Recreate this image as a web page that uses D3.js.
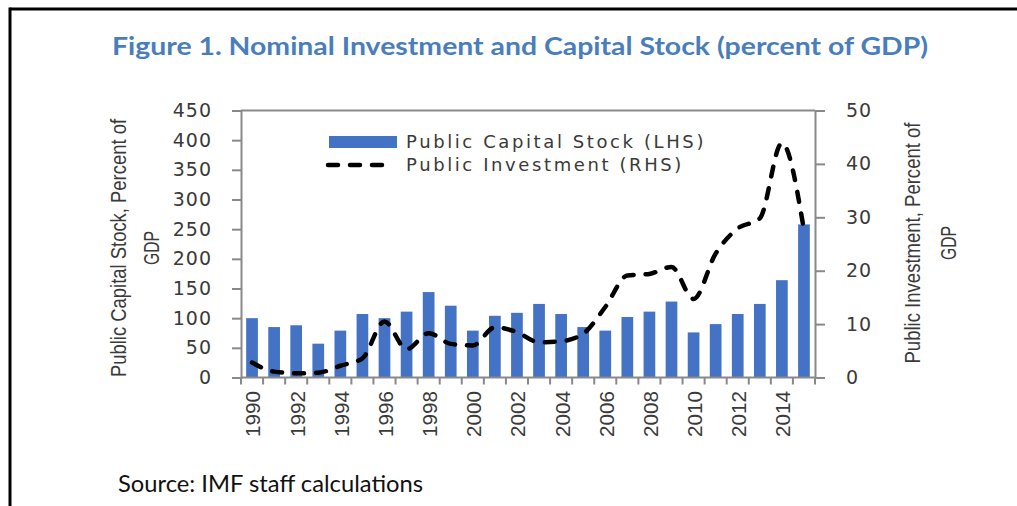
<!DOCTYPE html>
<html>
<head>
<meta charset="utf-8">
<script src="https://cdn.jsdelivr.net/npm/d3@7"></script>
<style>
  body { margin: 0; background: #fff; }
  svg { display: block; }
</style>
</head>
<body>
<script>
var width = 1017,
    height = 506;

// data
var years = [1990, 1991, 1992, 1993, 1994, 1995, 1996, 1997, 1998, 1999, 2000, 2001, 2002,
             2003, 2004, 2005, 2006, 2007, 2008, 2009, 2010, 2011, 2012, 2013, 2014, 2015];
var capitalStock = [100, 85, 88, 57, 79, 107, 100, 111, 144, 121, 79, 104, 109,
                    124, 107, 85, 79, 102, 111, 128, 76, 90, 107, 124, 164, 258];
var investment = [2.8, 1.1, 0.8, 0.9, 2.2, 3.6, 10.5, 5.3, 8.3, 6.3, 6.0, 9.4, 8.5,
                  6.6, 6.8, 8.2, 13.2, 19.1, 19.4, 20.7, 14.7, 23.2, 27.9, 29.8, 43.9, 27.6];
var leftTicks = [0, 50, 100, 150, 200, 250, 300, 350, 400, 450];
var rightTicks = [0, 10, 20, 30, 40, 50];
var yearLabels = years.filter(function(d) { return d % 2 === 0; });

var barColor = "#4472C4",
    axisColor = "#898989",
    textColor = "#3a3a3a";

var margin = {left: 241, right: 815, top: 110.5, bottom: 377.5};

var svg = d3.select("body").append("svg")
    .attr("width", width)
    .attr("height", height);

// outer frame (top + left edges)
svg.append("line").attr("x1", 10).attr("x2", width).attr("y1", 9).attr("y2", 9)
    .attr("stroke", "#000").attr("stroke-width", 3);
svg.append("line").attr("x1", 10).attr("x2", 10).attr("y1", 7.5).attr("y2", height)
    .attr("stroke", "#000").attr("stroke-width", 3);

// title
svg.append("text")
    .attr("x", 112)
    .attr("y", 55)
    .attr("textLength", 816)
    .attr("lengthAdjust", "spacingAndGlyphs")
    .style("font-family", "Lato, 'Open Sans', sans-serif")
    .style("font-weight", 700)
    .style("font-size", "24px")
    .attr("fill", "#4A7EBB")
    .text("Figure 1. Nominal Investment and Capital Stock (percent of GDP)");

var x = d3.scaleBand()
    .domain(years)
    .range([margin.left, margin.right])
    .padding(0);

var yL = d3.scaleLinear().domain([0, 450]).range([margin.bottom, margin.top]);
var yR = d3.scaleLinear().domain([0, 50]).range([margin.bottom, margin.top]);

var barW = x.bandwidth() * 0.53;

// bars
svg.selectAll(".bar")
    .data(years)
    .enter().append("rect")
    .attr("class", "bar")
    .attr("x", function(d) { return x(d) + (x.bandwidth() - barW) / 2; })
    .attr("y", function(d, i) { return yL(capitalStock[i]); })
    .attr("width", barW)
    .attr("height", function(d, i) { return yL(0) - yL(capitalStock[i]); })
    .attr("fill", barColor);

// plot top border
svg.append("line")
    .attr("x1", margin.left).attr("x2", margin.right)
    .attr("y1", margin.top).attr("y2", margin.top)
    .attr("stroke", axisColor).attr("stroke-width", 2);

// left axis
var leftAxis = svg.append("g")
    .attr("transform", "translate(" + margin.left + ",0)")
    .call(d3.axisLeft(yL).tickValues(leftTicks).tickSize(9).tickPadding(20));
leftAxis.select(".domain").attr("stroke", axisColor).attr("stroke-width", 2);
leftAxis.selectAll(".tick line").attr("stroke", axisColor).attr("stroke-width", 2);
leftAxis.selectAll(".tick text")
    .attr("fill", textColor)
    .style("font-family", "'DejaVu Sans', sans-serif")
    .style("font-size", "19px")
    .style("letter-spacing", "1px");

// right axis
var rightAxis = svg.append("g")
    .attr("transform", "translate(" + margin.right + ",0)")
    .call(d3.axisRight(yR).tickValues(rightTicks).tickSize(10).tickPadding(21));
rightAxis.select(".domain").attr("stroke", axisColor).attr("stroke-width", 2);
rightAxis.selectAll(".tick line").attr("stroke", axisColor).attr("stroke-width", 2);
rightAxis.selectAll(".tick text")
    .attr("fill", textColor)
    .style("font-family", "'DejaVu Sans', sans-serif")
    .style("font-size", "19px")
    .style("letter-spacing", "1px");

// x axis baseline with ticks at category boundaries
svg.append("line")
    .attr("x1", margin.left).attr("x2", margin.right)
    .attr("y1", margin.bottom).attr("y2", margin.bottom)
    .attr("stroke", axisColor).attr("stroke-width", 2);

var bounds = years.map(function(d) { return x(d); }).concat([margin.right]);
svg.selectAll(".xtick")
    .data(bounds)
    .enter().append("line")
    .attr("class", "xtick")
    .attr("x1", function(d) { return d; }).attr("x2", function(d) { return d; })
    .attr("y1", margin.bottom).attr("y2", margin.bottom + 7)
    .attr("stroke", axisColor).attr("stroke-width", 2);

svg.selectAll(".xlabel")
    .data(yearLabels)
    .enter().append("text")
    .attr("class", "xlabel")
    .attr("transform", function(d) {
      return "translate(" + (x(d) + x.bandwidth() / 2 + 1) + "," + 391 + ") rotate(-90)";
    })
    .attr("text-anchor", "end")
    .attr("dy", "0.36em")
    .attr("textLength", 46)
    .attr("lengthAdjust", "spacingAndGlyphs")
    .attr("fill", textColor)
    .style("font-family", "'Liberation Sans', Arial, sans-serif")
    .style("font-size", "20.5px")
    .text(function(d) { return d; });

// investment line
var line = d3.line()
    .x(function(d, i) { return x(years[i]) + x.bandwidth() / 2; })
    .y(function(d) { return yR(d); })
    .curve(d3.curveMonotoneX);

svg.append("path")
    .datum(investment)
    .attr("d", line)
    .attr("fill", "none")
    .attr("stroke", "#000")
    .attr("stroke-width", 4.5)
    .attr("stroke-linecap", "round")
    .attr("stroke-dasharray", "10,12");

// legend
var legendFont = "'DejaVu Sans', Verdana, sans-serif";
svg.append("rect")
    .attr("x", 329).attr("y", 136)
    .attr("width", 68).attr("height", 12)
    .attr("fill", barColor);
svg.append("text")
    .attr("x", 406).attr("y", 148)
    .attr("fill", textColor)
    .style("font-family", legendFont)
    .style("font-size", "18px")
    .style("letter-spacing", "2.6px")
    .text("Public Capital Stock (LHS)");
svg.append("line")
    .attr("x1", 328).attr("x2", 392)
    .attr("y1", 165).attr("y2", 165)
    .attr("stroke", "#000")
    .attr("stroke-width", 4.5)
    .attr("stroke-linecap", "round")
    .attr("stroke-dasharray", "10,12");
svg.append("text")
    .attr("x", 406).attr("y", 171)
    .attr("fill", textColor)
    .style("font-family", legendFont)
    .style("font-size", "18px")
    .style("letter-spacing", "2.6px")
    .text("Public Investment (RHS)");

// axis titles (condensed look via textLength)
var titleFont = "'Liberation Sans Narrow', 'Liberation Sans', Arial, sans-serif";
function axisTitle(cx, cy, lines, lengths, gap) {
  var t = svg.append("text")
      .attr("transform", "translate(" + cx + "," + cy + ") rotate(-90)")
      .attr("text-anchor", "middle")
      .attr("fill", textColor)
      .style("font-family", titleFont)
      .style("font-size", "22px");
  lines.forEach(function(s, i) {
    t.append("tspan")
      .attr("x", 0)
      .attr("y", i * gap)
      .attr("textLength", lengths[i])
      .attr("lengthAdjust", "spacingAndGlyphs")
      .text(s);
  });
}
axisTitle(126, 248, ["Public Capital Stock, Percent of", "GDP"], [258, 34], 33);
axisTitle(920, 243, ["Public Investment, Percent of", "GDP"], [241, 34], 36);

// source
svg.append("text")
    .attr("x", 118)
    .attr("y", 492)
    .attr("textLength", 305)
    .attr("lengthAdjust", "spacingAndGlyphs")
    .attr("fill", "#111")
    .style("font-family", "Lato, 'Open Sans', sans-serif")
    .style("font-size", "23.5px")
    .text("Source: IMF staff calculations");
</script>
</body>
</html>
